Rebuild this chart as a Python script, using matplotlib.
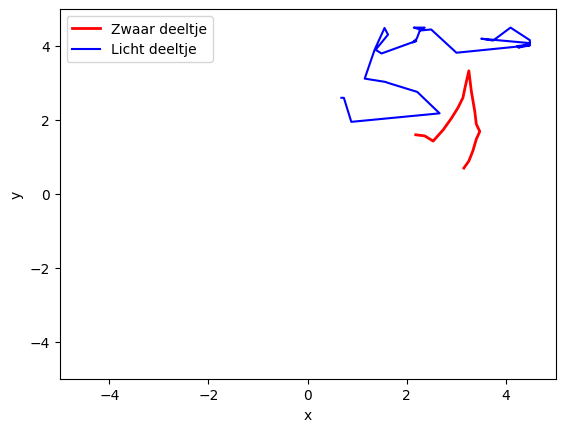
import matplotlib
matplotlib.use("Agg")
import matplotlib.pyplot as plt

# baan van het zware deeltje
x_zwaar = [2.18, 2.36, 2.53, 2.73, 2.90, 3.03, 3.13, 3.18, 3.25, 3.30, 3.37, 3.40, 3.47, 3.40, 3.33, 3.25, 3.15]
y_zwaar = [1.60, 1.57, 1.43, 1.73, 2.05, 2.33, 2.60, 2.92, 3.33, 2.78, 2.23, 1.89, 1.69, 1.48, 1.16, 0.89, 0.70]

# baan van het lichte deeltje
x_licht = [0.68, 0.73, 0.88, 2.66, 2.21, 1.63, 1.57, 1.15, 1.35, 1.55, 1.62, 1.37, 1.49,
           2.19, 2.12, 2.20, 2.27, 2.14, 2.36, 2.26, 2.49, 3.00,
           4.48, 4.25, 4.48, 3.50, 3.74, 4.09, 4.48, 4.48, 4.23]
y_licht = [2.60, 2.60, 1.95, 2.18, 2.76, 3.00, 3.03, 3.12, 3.90, 4.49, 4.31, 3.90, 3.80,
           4.14, 4.10, 4.20, 4.45, 4.50, 4.50, 4.42, 4.45, 3.82,
           4.02, 3.96, 4.08, 4.20, 4.15, 4.50, 4.16, 4.04, 4.00]

plt.figure(figsize=(6.4, 4.8))
plt.plot(x_zwaar, y_zwaar, color="red", linewidth=2, label="Zwaar deeltje")
plt.plot(x_licht, y_licht, color="blue", label="Licht deeltje")
plt.xlim(-5, 5)
plt.ylim(-5, 5)
plt.xlabel("x")
plt.ylabel("y")
plt.legend(loc="upper left")
plt.savefig("out.png", bbox_inches="tight")
